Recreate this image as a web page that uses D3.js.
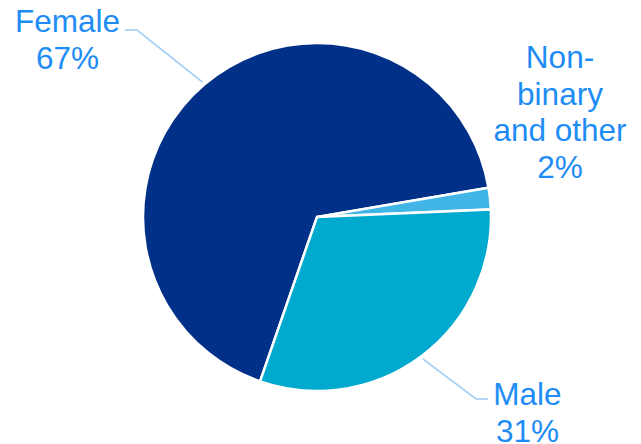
<!DOCTYPE html>
<html>
<head>
<meta charset="utf-8">
<script src="https://cdn.jsdelivr.net/npm/d3@7"></script>
<style>
  html, body { margin: 0; padding: 0; background: #ffffff; }
  svg { display: block; }
</style>
</head>
<body>
<svg id="chart" width="641" height="444"></svg>
<script>
// Gender split of respondents
const categories = ["Female", "Non-binary and other", "Male"];
const values = [67, 2, 31];
const valueLabels = ["67%", "2%", "31%"];
const labelLines = [["Female", "67%"], ["Non-", "binary", "and other", "2%"], ["Male", "31%"]];
const colors = ["#003087", "#41b6e6", "#00a9ce"];

const width = 641, height = 444;
const cx = 317, cy = 217, radius = 174;
const toRad = d => d * Math.PI / 180;

const svg = d3.select("#chart");
const g = svg.append("g").attr("transform", `translate(${cx},${cy})`);

const pie = d3.pie()
  .sort(null)
  .value(d => d.value)
  .startAngle(toRad(199.1))
  .endAngle(toRad(199.1 + 360));

const data = categories.map((c, i) => ({ name: c, value: values[i], color: colors[i], lines: labelLines[i] }));
const arcs = pie(data);

const arc = d3.arc().innerRadius(0).outerRadius(radius);

g.selectAll("path.slice")
  .data(arcs)
  .enter().append("path")
  .attr("class", "slice")
  .attr("d", arc)
  .attr("fill", d => d.data.color)
  .attr("stroke", "#ffffff")
  .attr("stroke-width", 2.5)
  .attr("stroke-linejoin", "miter");

// Label placement: text block centre and baseline of first line, plus leader elbow/end
const labelLayout = {
  "Female": { x: 67.5, y: 32, leader: [[137, 30], [125, 30]] },
  "Non-binary and other": { x: 560, y: 68, leader: null },
  "Male": { x: 527.5, y: 405, leader: [[476, 399], [488, 399]] }
};
const lineHeight = 36.6;
const textColor = "#1e8cf5";
const leaderColor = "#9fcdf6";

const leaderArc = d3.arc().innerRadius(radius + 3).outerRadius(radius + 3);

arcs.forEach(a => {
  const L = labelLayout[a.data.name];
  if (L.leader) {
    const mid = (a.startAngle + a.endAngle) / 2;
    const sx = cx + (radius + 3) * Math.sin(mid);
    const sy = cy - (radius + 3) * Math.cos(mid);
    const pts = [[sx, sy]].concat(L.leader);
    svg.append("path")
      .attr("d", d3.line()(pts))
      .attr("fill", "none")
      .attr("stroke", leaderColor)
      .attr("stroke-width", 1.6);
  }
  const t = svg.append("text")
    .attr("text-anchor", "middle")
    .attr("font-family", "'Liberation Sans', Arial, sans-serif")
    .attr("font-size", 31.5)
    .attr("fill", textColor);
  a.data.lines.forEach((ln, i) => {
    t.append("tspan")
      .attr("x", L.x)
      .attr("y", L.y + i * lineHeight)
      .text(ln);
  });
});
</script>
</body>
</html>
